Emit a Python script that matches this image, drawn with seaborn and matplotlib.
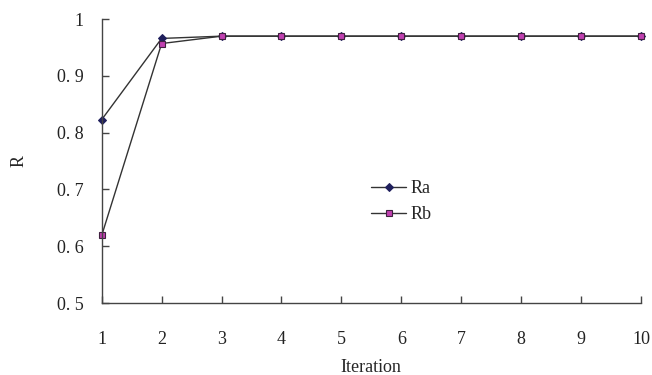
import matplotlib
matplotlib.use("Agg")
import matplotlib.pyplot as plt
import seaborn as sns
import pandas as pd

iterations = [1, 2, 3, 4, 5, 6, 7, 8, 9, 10]
ra = [0.823, 0.966, 0.970, 0.970, 0.970, 0.970, 0.970, 0.970, 0.970, 0.970]
rb = [0.619, 0.957, 0.970, 0.970, 0.970, 0.970, 0.970, 0.970, 0.970, 0.970]
yticks = [0.5, 0.6, 0.7, 0.8, 0.9, 1.0]
ytick_labels = ["0. 5", "0. 6", "0. 7", "0. 8", "0. 9", "1"]

sns.set_style("white")
plt.rcParams['font.family'] = ['Liberation Serif', 'DejaVu Serif']

fig = plt.figure(figsize=(6.52, 3.75), dpi=100)
ax = fig.add_axes([0.156, 0.192, 0.827, 0.757])

df_a = pd.DataFrame({"Iteration": iterations, "R": ra})
df_b = pd.DataFrame({"Iteration": iterations, "R": rb})
sns.lineplot(data=df_a, x="Iteration", y="R", ax=ax, color="#333333", lw=1.0,
             marker="D", markersize=4, markerfacecolor="#1f1f5c",
             markeredgecolor="#1f1f5c", label="Ra")
sns.lineplot(data=df_b, x="Iteration", y="R", ax=ax, color="#333333", lw=1.0,
             marker="s", markersize=5, markerfacecolor="#c040b0",
             markeredgecolor="#402040", markeredgewidth=0.8, label="Rb")

ax.set_xlim(1, 10)
ax.set_ylim(0.5, 1.0)
ax.set_xticks(iterations)
ax.set_xticklabels([str(i) for i in iterations], fontsize=13)
ax.set_yticks(yticks)
ax.set_yticklabels(ytick_labels, fontsize=13)
ax.set_xlabel("Iteration", fontsize=13, labelpad=8)
ax.set_ylabel("R", fontsize=13, labelpad=21)

for s in ["top", "right"]:
    ax.spines[s].set_visible(False)
for s in ["left", "bottom"]:
    ax.spines[s].set_color("#444444")
    ax.spines[s].set_linewidth(1.0)
ax.tick_params(axis="both", direction="in", length=5, width=1, color="#444444",
               left=True, bottom=True, labelcolor="#222222")
ax.tick_params(axis="x", pad=20)
ax.tick_params(axis="y", pad=13)

leg = ax.legend(loc="upper left", bbox_to_anchor=(0.47, 0.49), frameon=False,
                fontsize=13, handlelength=1.9, handletextpad=0.25, labelspacing=0.5)
for line in ax.lines:
    line.set_clip_on(False)

fig.savefig("out.png", dpi=100)
